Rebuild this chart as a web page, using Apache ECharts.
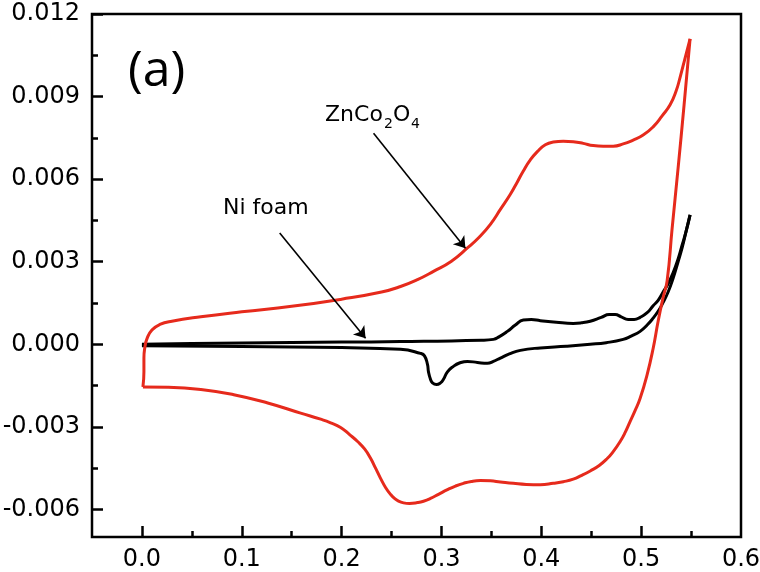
<!DOCTYPE html>
<html>
<head>
<meta charset="utf-8">
<script src="https://cdn.jsdelivr.net/npm/echarts@6/dist/echarts.min.js"></script>
<style>
html,body{margin:0;padding:0;background:#fff;}
#chart{width:760px;height:572px;}
</style>
</head>
<body>
<div id="chart"></div>
<script>
// Tick values
const xTicks = [0, 0.1, 0.2, 0.3, 0.4, 0.5, 0.6];
const xMajorTicks = [0, 0.1, 0.2, 0.3, 0.4, 0.5];
const xMinorTicks = [0.05, 0.15, 0.25, 0.35, 0.45, 0.55];
const yTicks = [-0.006, -0.003, 0, 0.003, 0.006, 0.009, 0.012];
const yMinorTicks = [-0.0045, -0.0015, 0.0015, 0.0045, 0.0075, 0.0105];

// ZnCo2O4 CV loop: anodic (forward) branch
const znAnodic = [
  [0.001, -0.00155], [0.002, -0.0010], [0.002, -0.0005], [0.003, -0.0001],
  [0.005, 0.0002], [0.010, 0.00052], [0.018, 0.00072], [0.030, 0.00084],
  [0.059, 0.0010], [0.100, 0.00118], [0.150, 0.00138], [0.200, 0.00164],
  [0.240, 0.0019], [0.259, 0.0021], [0.276, 0.00235], [0.292, 0.00265],
  [0.310, 0.00302], [0.326, 0.0035], [0.338, 0.0039], [0.349, 0.00436],
  [0.359, 0.0049], [0.369, 0.00545], [0.376, 0.0059], [0.382, 0.0063],
  [0.389, 0.0067], [0.396, 0.0070], [0.404, 0.00725], [0.412, 0.00735],
  [0.422, 0.00738], [0.432, 0.00736], [0.442, 0.0073], [0.452, 0.00722],
  [0.462, 0.0072], [0.472, 0.0072], [0.482, 0.00728], [0.492, 0.00742],
  [0.502, 0.0076], [0.512, 0.0079], [0.521, 0.0083], [0.529, 0.0087],
  [0.535, 0.0092], [0.539, 0.0097], [0.544, 0.0104], [0.549, 0.0111]
];
// ZnCo2O4 CV loop: cathodic (reverse) branch
const znCathodic = [
  [0.549, 0.0111], [0.543, 0.0087], [0.537, 0.0064], [0.531, 0.0042],
  [0.526, 0.0023], [0.522, 0.0017], [0.517, 0.00084], [0.512, -0.00015],
  [0.506, -0.0011], [0.499, -0.00196], [0.494, -0.0024], [0.489, -0.0028],
  [0.484, -0.0032], [0.479, -0.00353], [0.472, -0.0039], [0.466, -0.00415],
  [0.458, -0.0044], [0.449, -0.0046], [0.440, -0.00477], [0.432, -0.0049],
  [0.422, -0.00499], [0.412, -0.00505], [0.399, -0.0051], [0.385, -0.00509],
  [0.372, -0.00505], [0.359, -0.005], [0.349, -0.00496], [0.339, -0.00495],
  [0.330, -0.00498], [0.322, -0.00505], [0.314, -0.00515], [0.306, -0.00528],
  [0.297, -0.00545], [0.289, -0.0056], [0.282, -0.0057], [0.276, -0.00575],
  [0.268, -0.00578], [0.262, -0.00576], [0.257, -0.0057], [0.253, -0.0056],
  [0.249, -0.00545], [0.244, -0.0052], [0.239, -0.00487], [0.234, -0.0045],
  [0.229, -0.00414], [0.223, -0.0038], [0.216, -0.00353], [0.208, -0.00328],
  [0.199, -0.00302], [0.189, -0.00285], [0.179, -0.00272], [0.159, -0.0025],
  [0.126, -0.00213], [0.092, -0.00183], [0.059, -0.00164], [0.026, -0.00156],
  [0.001, -0.00155]
];
// Ni foam CV loop: anodic branch
const niAnodic = [
  [0.0, 0.0], [0.05, 0.00003], [0.1, 0.00005], [0.2, 0.00008], [0.259, 0.0001],
  [0.340, 0.00015], [0.352, 0.00018], [0.358, 0.00028], [0.366, 0.00047],
  [0.374, 0.0007], [0.382, 0.00088], [0.390, 0.0009], [0.399, 0.00086],
  [0.415, 0.0008], [0.432, 0.00076], [0.440, 0.00078], [0.449, 0.00084],
  [0.460, 0.00098], [0.468, 0.00108], [0.474, 0.00108], [0.480, 0.001],
  [0.487, 0.0009], [0.493, 0.0009], [0.499, 0.00098], [0.506, 0.00115],
  [0.512, 0.0014], [0.517, 0.0016], [0.522, 0.0019], [0.527, 0.0022],
  [0.532, 0.0026], [0.537, 0.0031], [0.541, 0.0036], [0.545, 0.0041],
  [0.549, 0.0047]
];
// Ni foam CV loop: cathodic branch
const niCathodic = [
  [0.549, 0.0047], [0.545, 0.0041], [0.541, 0.0035], [0.537, 0.0030],
  [0.532, 0.0024], [0.527, 0.0019], [0.521, 0.00145], [0.517, 0.0012],
  [0.512, 0.00095], [0.506, 0.0007], [0.499, 0.00047], [0.490, 0.0003],
  [0.482, 0.00018], [0.465, 0.00006], [0.449, 0.0], [0.425, -0.00007],
  [0.399, -0.00013], [0.379, -0.00022], [0.368, -0.00035], [0.359, -0.0005],
  [0.352, -0.00062], [0.346, -0.00069], [0.336, -0.00066], [0.326, -0.00062],
  [0.318, -0.00068], [0.312, -0.0008], [0.306, -0.001], [0.302, -0.00127],
  [0.299, -0.0014], [0.295, -0.00146], [0.291, -0.0014], [0.289, -0.00127],
  [0.287, -0.001], [0.286, -0.00073], [0.283, -0.00042], [0.279, -0.00033],
  [0.259, -0.00018], [0.2, -0.00012], [0.1, -0.00008], [0.0, -0.00005]
];
// Annotation arrows (data coordinates: [start, end])
const niArrow = [[0.138, 0.00404], [0.224, 0.00022]];
const znArrow = [[0.232, 0.00767], [0.324, 0.00349]];

const RED = '#e62a1c';
const FONT = 'DejaVu Sans';

const chart = echarts.init(document.getElementById('chart'), null, {renderer: 'canvas'});

function xAxisBase(extra) {
  return Object.assign({
    type: 'value', min: -0.05, max: 0.6, position: 'bottom',
    axisLine: {show: false, onZero: false},
    splitLine: {show: false}
  }, extra);
}
function yAxisBase(extra) {
  return Object.assign({
    type: 'value', min: -0.007, max: 0.012, position: 'left',
    axisLine: {show: false, onZero: false},
    splitLine: {show: false}
  }, extra);
}

const option = {
  animation: false,
  backgroundColor: '#fff',
  grid: {
    left: 92, right: 19, top: 14, bottom: 35,
    show: true, borderColor: '#000', borderWidth: 2.5,
    containLabel: false, outerBoundsMode: 'none'
  },
  xAxis: [
    xAxisBase({
      axisTick: {show: true, inside: true, length: 11, lineStyle: {color: '#000', width: 2.5}, customValues: xMajorTicks},
      axisLabel: {show: true, customValues: xTicks, margin: 11, color: '#000', fontFamily: FONT, fontSize: 24,
        formatter: v => v.toFixed(1)}
    }),
    xAxisBase({
      axisTick: {show: true, inside: true, length: 6, lineStyle: {color: '#000', width: 2.5}, customValues: xMinorTicks},
      axisLabel: {show: false}
    })
  ],
  yAxis: [
    yAxisBase({
      axisTick: {show: true, inside: true, length: 11, lineStyle: {color: '#000', width: 2.5}, customValues: yTicks},
      axisLabel: {show: true, customValues: yTicks, margin: 12, color: '#000', fontFamily: FONT, fontSize: 24,
        formatter: v => (Math.abs(v) < 1e-9 ? 0 : v).toFixed(3)}
    }),
    yAxisBase({
      axisTick: {show: true, inside: true, length: 6, lineStyle: {color: '#000', width: 2.5}, customValues: yMinorTicks},
      axisLabel: {show: false}
    })
  ],
  series: [
    {type: 'line', name: 'Ni foam (anodic)', data: niAnodic, showSymbol: false, symbol: 'none', smooth: 0.5,
      lineStyle: {color: '#000', width: 3}, z: 3},
    {type: 'line', name: 'Ni foam (cathodic)', data: niCathodic, showSymbol: false, symbol: 'none', smooth: 0.5,
      lineStyle: {color: '#000', width: 3}, z: 3,
      markLine: {
        silent: true, symbol: ['none', 'arrow'], symbolSize: 11,
        label: {show: false},
        lineStyle: {color: '#000', width: 1.6, type: 'solid'},
        data: [
          [{coord: niArrow[0]}, {coord: niArrow[1]}],
          [{coord: znArrow[0]}, {coord: znArrow[1]}]
        ]
      }},
    {type: 'line', name: 'ZnCo2O4 (anodic)', data: znAnodic, showSymbol: false, symbol: 'none', smooth: 0.5,
      lineStyle: {color: RED, width: 3}, z: 4},
    {type: 'line', name: 'ZnCo2O4 (cathodic)', data: znCathodic, showSymbol: false, symbol: 'none', smooth: 0.5,
      lineStyle: {color: RED, width: 3}, z: 4}
  ],
  graphic: [
    {type: 'text', left: 128, top: 47, style: {text: '(a)', font: '50px "Open Sans"', fill: '#000'}},
    {type: 'text', x: 223, y: 208, style: {text: 'Ni foam', font: '22px "DejaVu Sans"', fill: '#000', align: 'left', verticalAlign: 'middle'}},
    {type: 'text', x: 325, y: 115, style: {text: 'ZnCo', font: '22px "DejaVu Sans"', fill: '#000', align: 'left', verticalAlign: 'middle'}},
    {type: 'text', x: 384, y: 124, style: {text: '2', font: '14px "DejaVu Sans"', fill: '#000', align: 'left', verticalAlign: 'middle'}},
    {type: 'text', x: 393, y: 115, style: {text: 'O', font: '22px "DejaVu Sans"', fill: '#000', align: 'left', verticalAlign: 'middle'}},
    {type: 'text', x: 411, y: 124, style: {text: '4', font: '14px "DejaVu Sans"', fill: '#000', align: 'left', verticalAlign: 'middle'}}
  ]
};
chart.setOption(option);
</script>
</body>
</html>
